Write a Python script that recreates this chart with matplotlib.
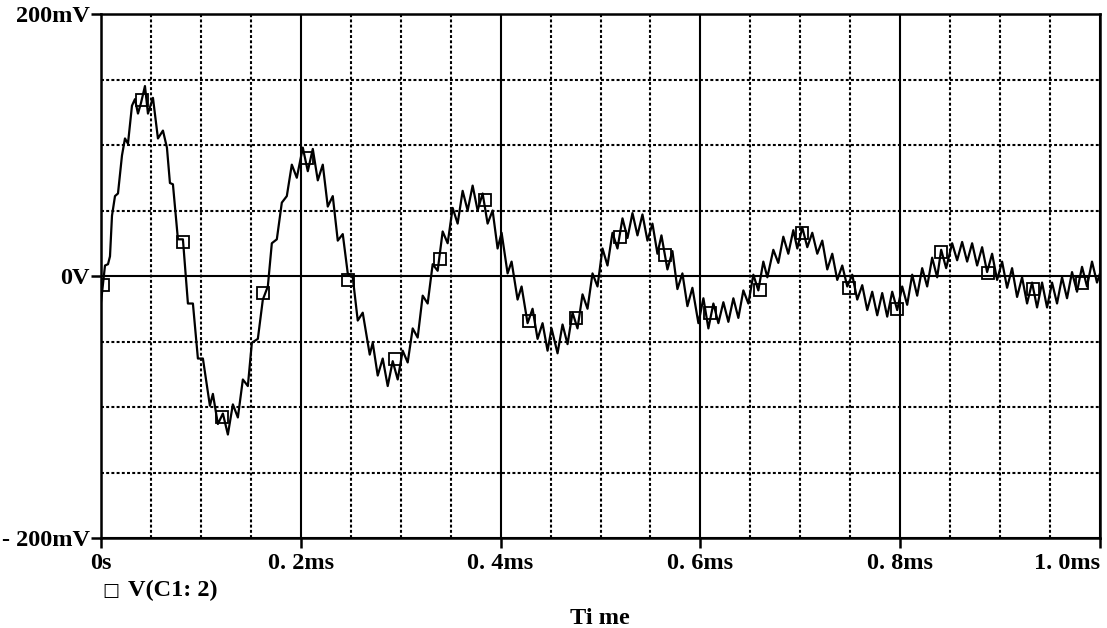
import matplotlib
matplotlib.use("Agg")
import matplotlib.pyplot as plt

# trace V(C1:2), time in ms, voltage in mV
t_ms = [0.000, 0.004, 0.007, 0.009, 0.011, 0.014, 0.017, 0.021, 0.024, 0.027,
        0.031, 0.034, 0.037, 0.040, 0.044, 0.047, 0.052, 0.057, 0.062, 0.066,
        0.069, 0.072, 0.077, 0.082, 0.087, 0.092, 0.097, 0.102, 0.109, 0.112,
        0.117, 0.122, 0.127, 0.132, 0.137, 0.142, 0.147, 0.151, 0.157, 0.162,
        0.167, 0.171, 0.176, 0.181, 0.186, 0.191, 0.196, 0.202, 0.207, 0.212,
        0.217, 0.222, 0.227, 0.232, 0.237, 0.242, 0.247, 0.252, 0.257, 0.262,
        0.269, 0.272, 0.277, 0.282, 0.287, 0.292, 0.297, 0.302, 0.307, 0.312,
        0.317, 0.322, 0.327, 0.332, 0.337, 0.342, 0.347, 0.352, 0.357, 0.362,
        0.367, 0.372, 0.377, 0.382, 0.387, 0.392, 0.397, 0.401, 0.407, 0.411,
        0.417, 0.421, 0.427, 0.432, 0.437, 0.442, 0.447, 0.451, 0.457, 0.462,
        0.467, 0.472, 0.477, 0.482, 0.487, 0.492, 0.497, 0.502, 0.507, 0.512,
        0.517, 0.522, 0.527, 0.532, 0.537, 0.542, 0.547, 0.552, 0.557, 0.561,
        0.567, 0.572, 0.577, 0.582, 0.587, 0.592, 0.598, 0.603, 0.608, 0.613,
        0.618, 0.623, 0.628, 0.633, 0.638, 0.643, 0.648, 0.653, 0.658, 0.663,
        0.667, 0.673, 0.678, 0.683, 0.688, 0.693, 0.697, 0.702, 0.707, 0.712,
        0.717, 0.722, 0.727, 0.732, 0.737, 0.742, 0.747, 0.752, 0.757, 0.762,
        0.767, 0.772, 0.777, 0.782, 0.787, 0.792, 0.797, 0.802, 0.807, 0.812,
        0.817, 0.822, 0.827, 0.832, 0.837, 0.841, 0.846, 0.852, 0.857, 0.862,
        0.867, 0.872, 0.877, 0.882, 0.887, 0.892, 0.897, 0.902, 0.907, 0.912,
        0.917, 0.922, 0.927, 0.932, 0.937, 0.942, 0.947, 0.952, 0.957, 0.962,
        0.967, 0.972, 0.977, 0.982, 0.987, 0.992, 0.997, 1.000]
v_mV = [-20, 8, 9, 15, 46, 61, 63, 92, 105, 101,
        130, 135, 124, 132, 145, 124, 136, 105, 111, 98,
        71, 70, 28, 28, -21, -21, -63, -63, -99, -90,
        -113, -105, -121, -98, -108, -79, -84, -51, -48, -18,
        -8, 25, 28, 56, 61, 85, 75, 98, 80, 97,
        73, 85, 53, 61, 27, 32, 2, -1, -34, -28,
        -60, -51, -76, -63, -84, -65, -79, -57, -66, -40,
        -47, -15, -21, 9, 4, 34, 25, 52, 40, 65,
        50, 69, 50, 63, 40, 50, 21, 33, 2, 11,
        -18, -8, -36, -25, -48, -36, -57, -40, -59, -37,
        -52, -28, -40, -14, -25, 2, -8, 21, 8, 33,
        21, 44, 29, 48, 31, 47, 27, 40, 17, 31,
        5, 19, -10, 2, -23, -9, -36, -17, -40, -21,
        -36, -20, -35, -17, -32, -11, -21, 1, -11, 11,
        -1, 20, 10, 30, 17, 35, 21, 37, 22, 33,
        17, 27, 5, 17, -3, 8, -8, 1, -18, -7,
        -26, -12, -30, -13, -31, -12, -26, -8, -22, 1,
        -15, 6, -8, 14, -1, 20, 6, 25, 12, 26,
        11, 25, 8, 22, 3, 17, -3, 11, -9, 6,
        -16, -1, -21, -5, -24, -5, -24, -5, -21, -1,
        -17, 3, -12, 7, -8, 11, -5, 2]

# marker symbols drawn on the trace
mark_t = [0.002, 0.041, 0.082, 0.121, 0.162, 0.206, 0.247, 0.294, 0.339, 0.384,
          0.428, 0.475, 0.520, 0.565, 0.610, 0.660, 0.702, 0.749, 0.797, 0.841,
          0.888, 0.933, 0.982]
mark_v = [-7, 134, 26, -108, -13, 90, -3, -63, 13, 58,
          -34, -32, 30, 16, -28, -11, 33, -9, -25, 18,
          2, -10, -5]

x_major = [0.0, 0.2, 0.4, 0.6, 0.8, 1.0]
x_labels = ["0s", "0. 2ms", "0. 4ms", "0. 6ms", "0. 8ms", "1. 0ms"]
x_minor = [0.05, 0.1, 0.15, 0.25, 0.3, 0.35, 0.45, 0.5, 0.55,
           0.65, 0.7, 0.75, 0.85, 0.9, 0.95]
y_major = [-200, 0, 200]
y_labels = ["- 200mV", "0V", "200mV"]
y_minor = [-150, -100, -50, 50, 100, 150]

font = dict(family="Liberation Serif", weight="bold", size=17.5)

fig = plt.figure(figsize=(11.07, 6.28), dpi=100)
ax = fig.add_axes([101 / 1107, 1 - 538 / 628, 999 / 1107, 524 / 628])

ax.plot(t_ms, v_mV, color="black", lw=1.6, zorder=3)
ax.plot(mark_t, mark_v, ls="none", marker="s", ms=8.5, mfc="none",
        mec="black", mew=1.3, zorder=4)

ax.set_xlim(0, 1.0)
ax.set_ylim(-200, 200)

ax.set_xticks(x_major)
ax.set_xticklabels(x_labels, fontdict=font)
ax.set_xticks(x_minor, minor=True)
ax.set_yticks(y_major)
ax.set_yticklabels(y_labels, fontdict=font)
ax.set_yticks(y_minor, minor=True)
ax.get_xticklabels()[-1].set_ha("right")

ax.tick_params(which="major", direction="out", length=7, width=1.8, pad=4, color="black")
ax.tick_params(axis="y", which="major", pad=1)
ax.tick_params(which="minor", length=0)

ax.grid(which="major", color="black", lw=1.5, ls="-")
ax.grid(which="minor", color="black", lw=1.5, ls=(0, (1.4, 1.1)))
ax.set_axisbelow(True)

for s in ax.spines.values():
    s.set_linewidth(1.8)
    s.set_color("black")

# legend entry and axis title below the plot
fig.text(111 / 1107, 1 - 591 / 628, "\u25a1", ha="center", va="center",
         fontsize=13, family="DejaVu Sans")
fig.text(128 / 1107, 1 - 590 / 628, "V(C1: 2)", ha="left", va="center", **font)
fig.text(600 / 1107, 1 - 618 / 628, "Ti me", ha="center", va="center", **font)

fig.savefig("out.png", dpi=100)
